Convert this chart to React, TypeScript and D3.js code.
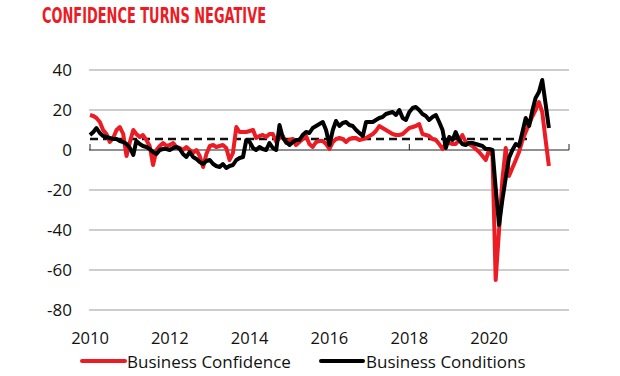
import React from "react";
import * as d3 from "d3";

const title = "CONFIDENCE TURNS NEGATIVE";
const startYear = 2010;
const seriesNames = ["Business Confidence", "Business Conditions"];
// monthly values from Jan 2010
const confidence = [
  17.5, 17, 16, 14, 10, 8, 4, 6, 10, 11.5, 8, -3, 4, 10, 8, 6.5, 7.5, 5, 2, -7.5,
  0, 2, 3.5, 2, 2.5, 3.5, 1.5, 1, 0, 1.5, 0, -1.5, 0, -3, -8.5, -2, 2, 2.5, 1.5, 2,
  2.5, 1, -5, -1.5, 11.5, 9, 9, 9, 9.5, 10, 6, 7, 7.5, 6.5, 8, 8, 4, 6, 7, 3.5,
  5, 5.5, 2.5, 4, 5.5, 7, 3, 1.5, 4, 4.5, 4.5, 3, 0.5, 4, 5.5, 6, 5.5, 4, 5.5, 6,
  6, 5, 5.5, 6, 7, 8, 9.5, 12, 11, 10, 9, 8, 7.5, 7.5, 8, 9.5, 11, 11.5, 12, 13,
  8, 7.5, 7, 5.5, 5, 3, 0.5, 3.5, 3.5, 3, 3, 5, 7.5, 4, 3, 2, 0.5, -1, -3, -5,
  0, -3, -65, -40, -15, 1, -13, -9, -5, -1, 5, 9, 13, 17, 20, 24, 19, 5, -8,
];
const conditions = [
  7.5, 9, 11, 8.5, 7, 6.5, 6, 5.5, 5.5, 4.5, 4, 3, 1, -2.5, 4.5, 3, 2, 1.5, 0.5, -1,
  -2, 0, 0.5, 0.5, 0, 1, 1.5, 0.5, -2, -3.5, -1, -3.5, -4.5, -6, -7, -5.5, -5, -7, -8, -8.5,
  -7, -9, -8, -7.5, -5, -4, -3.5, 5, 4, 1, 0, 1.5, 0.5, 0, 3.5, 1, 0, 12.5, 6, 4,
  2.5, 4, 5, 5, 7.5, 9, 8.5, 11, 12, 13, 14, 10, 2.5, 10, 14.5, 12, 13.5, 14, 12.5, 12,
  10, 8.5, 7, 14, 14, 14, 15, 16, 16.5, 18, 18.5, 19, 17.5, 20, 16, 15, 19, 21, 21.5, 20,
  18, 17, 15, 16.5, 17.5, 14, 10, 1, 6.5, 5, 9, 5, 3, 2.5, 3.5, 3.5, 3, 2.5, 2, 0.5,
  0.5, 0, -19, -37.5, -25, -14, -4, 0, 3, 2, 9, 16, 12, 20, 26, 29, 35, 23, 11,
];
const averageValue = 5.5;
const averageMonths = 132;
const xTickLabels = [2010, 2012, 2014, 2016, 2018, 2020];
const xTickMarks = [2010, 2014, 2018, 2022];
const yTicks = [40, 20, 0, -20, -40, -60, -80];

const RED = "#ec1c24";
const W = 620;
const H = 376;

export default function App() {
  const x = d3
    .scaleTime()
    .domain([new Date(2010, 0, 1), new Date(2022, 0, 1)])
    .range([90, 569]);
  const y = d3.scaleLinear().domain([-80, 40]).range([310, 70]);
  const date = (i: number) => new Date(startYear, i, 1);
  const line = d3
    .line<number>()
    .x((_, i) => x(date(i)))
    .y((d) => y(d))
    .curve(d3.curveLinear);
  const font = "'Open Sans', sans-serif";

  return (
    <svg
      width={W}
      height={H}
      style={{ position: "absolute", left: 0, top: 0, background: "#fff" }}
    >
      <text
        x={42}
        y={23}
        fill={RED}
        fontFamily="'DejaVu Sans Condensed', 'DejaVu Sans', sans-serif"
        fontWeight="bold"
        fontSize={22}
        textLength={224}
        lengthAdjust="spacingAndGlyphs"
      >
        {title}
      </text>

      {yTicks.map((t) => (
        <g key={t}>
          {t !== 0 && (
            <line
              x1={89}
              x2={569}
              y1={y(t)}
              y2={y(t)}
              stroke="#bdbdbd"
              strokeWidth={1.5}
            />
          )}
          <text
            x={72}
            y={y(t)}
            dy="0.36em"
            textAnchor="end"
            fontFamily={font}
            fontSize={17}
            fill="#111"
          >
            {t}
          </text>
        </g>
      ))}

      {xTickLabels.map((yr) => (
        <text
          key={yr}
          x={x(new Date(yr, 0, 1))}
          y={344}
          textAnchor="middle"
          fontFamily={font}
          fontSize={16.5}
          fill="#111"
        >
          {yr}
        </text>
      ))}

      <line x1={89} x2={569} y1={y(0)} y2={y(0)} stroke="#222" strokeWidth={1} />
      {xTickMarks.map((yr) => (
        <line
          key={yr}
          x1={x(new Date(yr, 0, 1))}
          x2={x(new Date(yr, 0, 1))}
          y1={y(0)}
          y2={y(0) - 6}
          stroke="#222"
          strokeWidth={1}
        />
      ))}

      <line
        x1={x(date(0))}
        x2={x(date(averageMonths))}
        y1={y(averageValue)}
        y2={y(averageValue)}
        stroke="#111"
        strokeWidth={2.5}
        strokeDasharray="8,5"
      />

      <path
        d={line(confidence) || ""}
        fill="none"
        stroke={RED}
        strokeWidth={4}
        strokeLinejoin="round"
      />
      <path
        d={line(conditions) || ""}
        fill="none"
        stroke="#000"
        strokeWidth={4}
        strokeLinejoin="round"
      />

      <line x1={82} x2={125} y1={361} y2={361} stroke={RED} strokeWidth={4} strokeLinecap="round" />
      <text x={127} y={368} fontFamily={font} fontSize={17} fill="#111">
        {seriesNames[0]}
      </text>
      <line x1={321} x2={363} y1={361} y2={361} stroke="#000" strokeWidth={4} strokeLinecap="round" />
      <text x={366} y={368} fontFamily={font} fontSize={17} fill="#111">
        {seriesNames[1]}
      </text>
    </svg>
  );
}
